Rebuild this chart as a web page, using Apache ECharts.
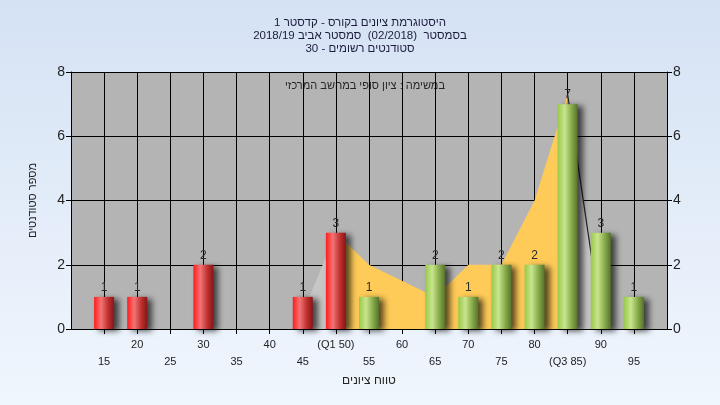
<!DOCTYPE html>
<html>
<head>
<meta charset="utf-8">
<script src="https://cdn.jsdelivr.net/npm/echarts@6/dist/echarts.min.js"></script>
<style>
html,body{margin:0;padding:0;}
#c{width:720px;height:405px;}
</style>
</head>
<body>
<div id="c" dir="rtl"></div>
<script>
// ---- data ----
const titleLines = [
  'היסטוגרמת ציונים בקורס - קדסטר 1',
  'בסמסטר  (02/2018)  סמסטר אביב 2018/19',
  'סטודנטים רשומים - 30'
];
const legendText = 'במשימה : ציון סופי במחשב המרכזי';
const xAxisName = 'טווח ציונים';
const yAxisName = 'מספר סטודנטים';
const categories = [15, 20, 25, 30, 35, 40, 45, 50, 55, 60, 65, 70, 75, 80, 85, 90, 95];
const counts =     [1,  1,  0,  2,  0,  0,  1,  3,  1,  0,  2,  1,  2,  2,  7,  3,  1];
const tickLabels = ['15','20','25','30','35','40','45','(Q1 50)','55','60','65','70','75','80','(Q3 85)','90','95'];
const passMark = 50;
const curveX = [45, 50, 55, 65, 70, 75, 80, 85, 90];
const curveY = [0.5, 3, 2, 1, 2, 2, 4, 7.3, 0.3];

// ---- build ----
const font = '"Liberation Sans", "DejaVu Sans", Arial, sans-serif';
function grad(stops){
  return new echarts.graphic.LinearGradient(0,0,1,0, stops.map(c=>({offset:c[0], color:c[1]})));
}
const redGrad = () => grad([[0,'#ff1c1c'],[0.35,'#f27474'],[0.7,'#c03030'],[1,'#861616']]);
const greenGrad = () => grad([[0,'#98c94a'],[0.35,'#c9e58d'],[0.7,'#86aa4a'],[1,'#56722c']]);

const barData = [];
categories.forEach((c,i)=>{
  if (counts[i] > 0) {
    barData.push({
      value: [c, counts[i]],
      itemStyle: {color: c <= passMark ? redGrad() : greenGrad()}
    });
  }
});
const pts = curveX.map((x,i)=>[x, curveY[i]]);
const labelMap = {};
categories.forEach((c,i)=>{ labelMap[c] = tickLabels[i]; });

const chart = echarts.init(document.getElementById('c'));
chart.setOption({
  backgroundColor: new echarts.graphic.LinearGradient(0,0,0,1,[{offset:0,color:'#d5e2f4'},{offset:1,color:'#f0f6fd'}]),
  animation: false,
  title: {
    text: titleLines.join('\n'),
    left: 'center',
    top: 11,
    textStyle: {fontFamily: font, fontSize: 11.5, fontWeight: 'normal', color: '#1c1c3c', lineHeight: 13}
  },
  grid: {left: 71, right: 53, top: 72, bottom: 76, show: true, backgroundColor: '#b4b4b4', borderWidth: 0},
  graphic: [{
    type: 'text', x: 445, y: 80,
    style: {text: legendText, font: '11px ' + font, fill: '#262626', textAlign: 'right'}
  }],
  xAxis: {
    type: 'value', min: 10, max: 100, interval: 5,
    name: xAxisName, nameLocation: 'middle', nameGap: 46,
    nameTextStyle: {fontFamily: font, fontSize: 12, color: '#222'},
    axisLine: {show: true, lineStyle: {color: '#000', width: 1}},
    axisTick: {show: true, length: 5, lineStyle: {color: '#000'}},
    splitLine: {show: true, lineStyle: {color: '#000', width: 1}},
    axisLabel: {
      fontFamily: font, fontSize: 11, color: '#222', lineHeight: 17, margin: 7,
      showMinLabel: false, showMaxLabel: false,
      formatter: function(v){
        const l = labelMap[v];
        if (!l) return '';
        return (v % 10 === 0) ? l : '\n' + l;
      }
    }
  },
  yAxis: [{
    type: 'value', min: 0, max: 8, interval: 2,
    name: yAxisName, nameLocation: 'middle', nameGap: 33,
    nameTextStyle: {fontFamily: font, fontSize: 11, color: '#222'},
    axisLine: {show: true, lineStyle: {color: '#000'}},
    axisTick: {show: true, length: 5, lineStyle: {color: '#000'}},
    splitLine: {show: true, lineStyle: {color: '#000', width: 1}},
    axisLabel: {fontFamily: font, fontSize: 14, color: '#222', margin: 6}
  },{
    type: 'value', min: 0, max: 8, interval: 2, position: 'right',
    axisLine: {show: true, lineStyle: {color: '#000'}},
    axisTick: {show: true, length: 5, lineStyle: {color: '#000'}},
    splitLine: {show: false},
    axisLabel: {fontFamily: font, fontSize: 14, color: '#222', margin: 6}
  }],
  series: [
    {
      type: 'line', data: pts.slice(0, 2), symbol: 'none', z: 1,
      lineStyle: {width: 0}, areaStyle: {color: '#c6c6c6', opacity: 1}
    },
    {
      type: 'line', data: pts.slice(1, 8), symbol: 'none', z: 1,
      lineStyle: {width: 0}, areaStyle: {color: '#ffcb58', opacity: 1}
    },
    {
      type: 'line', data: pts.slice(7, 9), symbol: 'none', z: 1,
      lineStyle: {width: 1.2, color: '#222'}, areaStyle: {color: '#c6c6c6', opacity: 1}
    },
    {
      type: 'bar', data: barData, barWidth: 20, z: 3,
      itemStyle: {shadowColor: 'rgba(0,0,0,0.65)', shadowBlur: 6, shadowOffsetX: 5, shadowOffsetY: 2},
      label: {show: true, position: 'top', distance: 3, fontFamily: font, fontSize: 12, color: '#2a2a2a',
        formatter: p => p.value[1]}
    }
  ]
});
</script>
</body>
</html>
